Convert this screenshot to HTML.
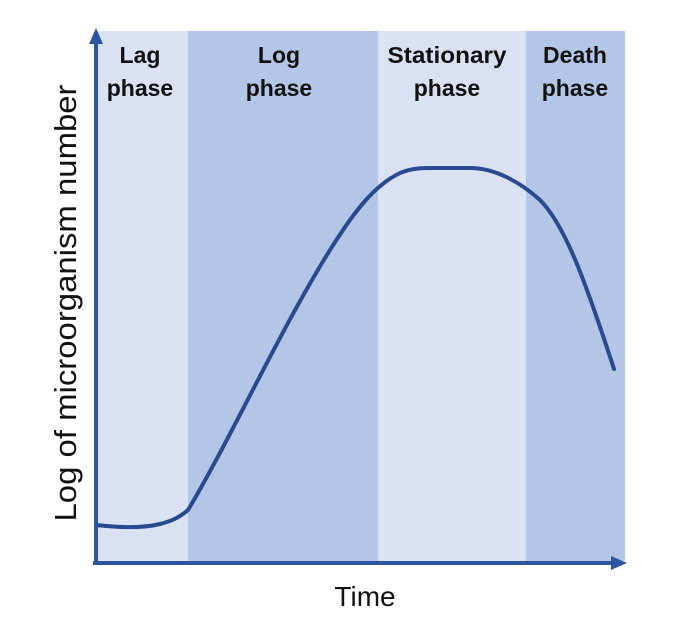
<!DOCTYPE html>
<html><head><style>html,body{margin:0;padding:0;background:#fff;}svg{display:block}</style></head>
<body>
<svg width="690" height="634" viewBox="0 0 690 634" xmlns="http://www.w3.org/2000/svg">
<rect x="96" y="31" width="92" height="530" fill="#dae1f2"/>
<rect x="188" y="31" width="190" height="530" fill="#b4c6e7"/>
<rect x="378" y="31" width="148" height="530" fill="#dae1f2"/>
<rect x="526" y="31" width="99" height="530" fill="#b4c6e7"/>
<g font-family="Liberation Sans, sans-serif" font-weight="bold" font-size="23" fill="#111" text-anchor="middle">
<text x="140" y="63">Lag</text><text x="140" y="96">phase</text>
<text x="279" y="63">Log</text><text x="279" y="96">phase</text>
<text x="447" y="63" textLength="119" lengthAdjust="spacingAndGlyphs">Stationary</text><text x="447" y="96">phase</text>
<text x="575" y="63">Death</text><text x="575" y="96">phase</text>
</g>
<path d="M96,525 C115,527 140,529 160,524 C172,521 180,517 188,510 C230,440 280,330 330,250 C355,210 375,185 400,173 C415,167 425,168 445,168 L470,168 C495,168 520,182 540,200 C565,225 585,280 614,369" fill="none" stroke="#2a4a8f" stroke-width="4" stroke-linecap="round"/>
<line x1="96" y1="563" x2="96" y2="40" stroke="#2e55a0" stroke-width="4"/>
<polygon points="96,28 89,44 103,44" fill="#2e55a0"/>
<line x1="93" y1="563" x2="612" y2="563" stroke="#2e55a0" stroke-width="4"/>
<polygon points="627,563 611,556 611,570" fill="#2e55a0"/>
<text x="365" y="606" font-family="Liberation Sans, sans-serif" font-size="28" fill="#111" text-anchor="middle">Time</text>
<text transform="translate(76,303) rotate(-90)" font-family="Liberation Sans, sans-serif" font-size="31" fill="#111" text-anchor="middle" textLength="437" lengthAdjust="spacingAndGlyphs">Log of microorganism number</text>
</svg>
</body></html>
